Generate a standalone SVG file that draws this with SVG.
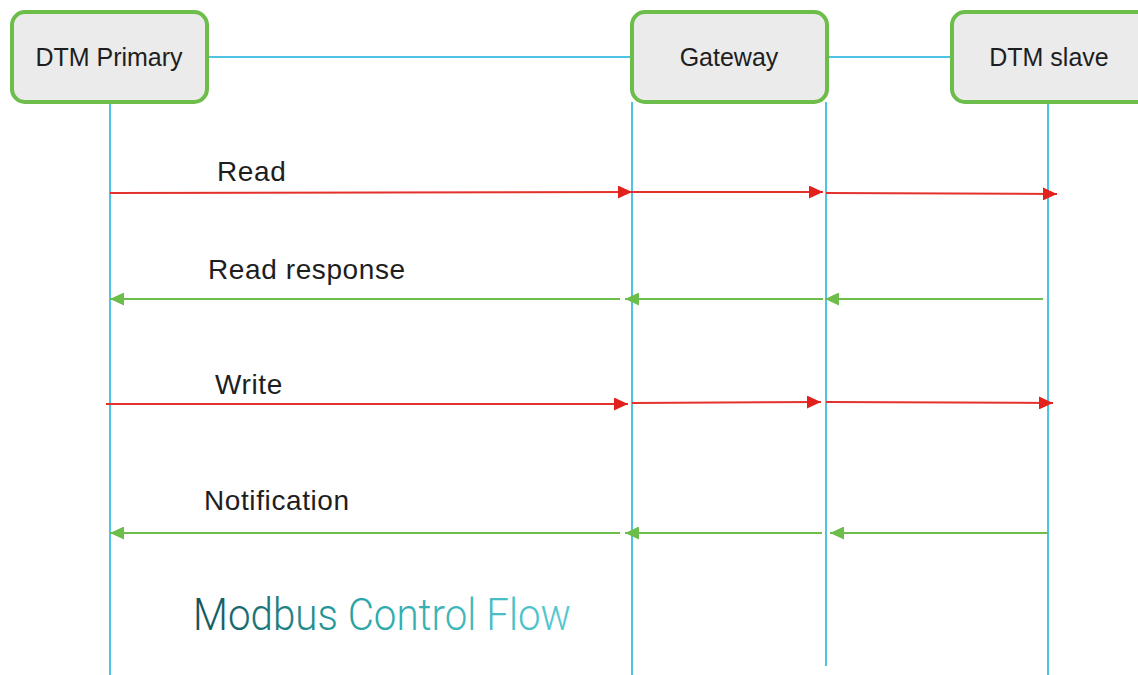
<svg xmlns="http://www.w3.org/2000/svg" width="1138" height="675" viewBox="0 0 1138 675">
<defs>
<style>
.node rect{fill:#ebebeb;stroke:#6cbd4a;stroke-width:4}
.node text{font-family:"Liberation Sans",Arial,sans-serif;font-size:25px;fill:#1e1e1e;text-anchor:middle}
.life{stroke:#4fc3e6;stroke-width:2;fill:none}
.req{stroke:#e3312b;stroke-width:2;fill:none;marker-end:url(#ar)}
.rsp{stroke:#6cbd4a;stroke-width:2;fill:none;marker-end:url(#ag)}
.lbl{font-family:"Liberation Sans",Arial,sans-serif;font-size:28px;letter-spacing:0.6px;fill:#1e1e1e}
</style>
<marker id="ar" markerUnits="userSpaceOnUse" markerWidth="14" markerHeight="13" refX="14" refY="6.5" orient="auto"><path d="M0,0 L14,6.5 L0,13 z" fill="#e3211c"/></marker>
<marker id="ag" markerUnits="userSpaceOnUse" markerWidth="14" markerHeight="13" refX="14" refY="6.5" orient="auto"><path d="M0,0 L14,6.5 L0,13 z" fill="#6cbd4a"/></marker>
<linearGradient id="tg" x1="193" y1="0" x2="571" y2="0" gradientUnits="userSpaceOnUse"><stop offset="0" stop-color="#145258"/><stop offset="0.45" stop-color="#2aa7a9"/><stop offset="1" stop-color="#58c9d0"/></linearGradient>
</defs>
<rect width="1138" height="675" fill="#ffffff"/>
<g id="connectors">
<line class="life" x1="207" y1="57" x2="632" y2="57"/>
<line class="life" x1="827" y1="57" x2="952" y2="57"/>
<line class="life" x1="110" y1="102" x2="110" y2="675"/>
<line class="life" x1="632" y1="102" x2="632" y2="675"/>
<line class="life" x1="826" y1="102" x2="826" y2="666"/>
<line class="life" x1="1048" y1="102" x2="1048" y2="675"/>
<line class="req" x1="110" y1="193" x2="632" y2="192"/>
<line class="req" x1="632" y1="192" x2="823" y2="192"/>
<line class="req" x1="826" y1="193" x2="1057" y2="194"/>
<line class="rsp" x1="1043" y1="299" x2="825" y2="299"/>
<line class="rsp" x1="823" y1="299" x2="625" y2="299"/>
<line class="rsp" x1="620" y1="299" x2="110" y2="299"/>
<line class="req" x1="106" y1="404" x2="628" y2="404"/>
<line class="req" x1="632" y1="403" x2="821" y2="402"/>
<line class="req" x1="826" y1="402" x2="1053" y2="403"/>
<line class="rsp" x1="1048" y1="533" x2="830" y2="533"/>
<line class="rsp" x1="822" y1="533" x2="625" y2="533"/>
<line class="rsp" x1="620" y1="533" x2="110" y2="533"/>
</g>
<g id="labels">
<text class="lbl" x="217" y="181">Read</text>
<text class="lbl" x="208" y="279">Read response</text>
<text class="lbl" x="215" y="394">Write</text>
<text class="lbl" x="204" y="510">Notification</text>
</g>
<g id="dtm-primary" class="node">
<rect x="12" y="12" width="195" height="90" rx="13"/>
<text x="109" y="66">DTM Primary</text>
</g>
<g id="gateway" class="node">
<rect x="632" y="12" width="195" height="90" rx="13"/>
<text x="729" y="66">Gateway</text>
</g>
<g id="dtm-slave" class="node">
<rect x="952" y="12" width="200" height="90" rx="13"/>
<text x="1049" y="66">DTM slave</text>
</g>
<g id="title">
<text x="193" y="630" font-family="Roboto,'Liberation Sans',sans-serif" font-weight="300" font-size="45" fill="url(#tg)" textLength="378" lengthAdjust="spacingAndGlyphs">Modbus Control Flow</text>
</g>
</svg>
